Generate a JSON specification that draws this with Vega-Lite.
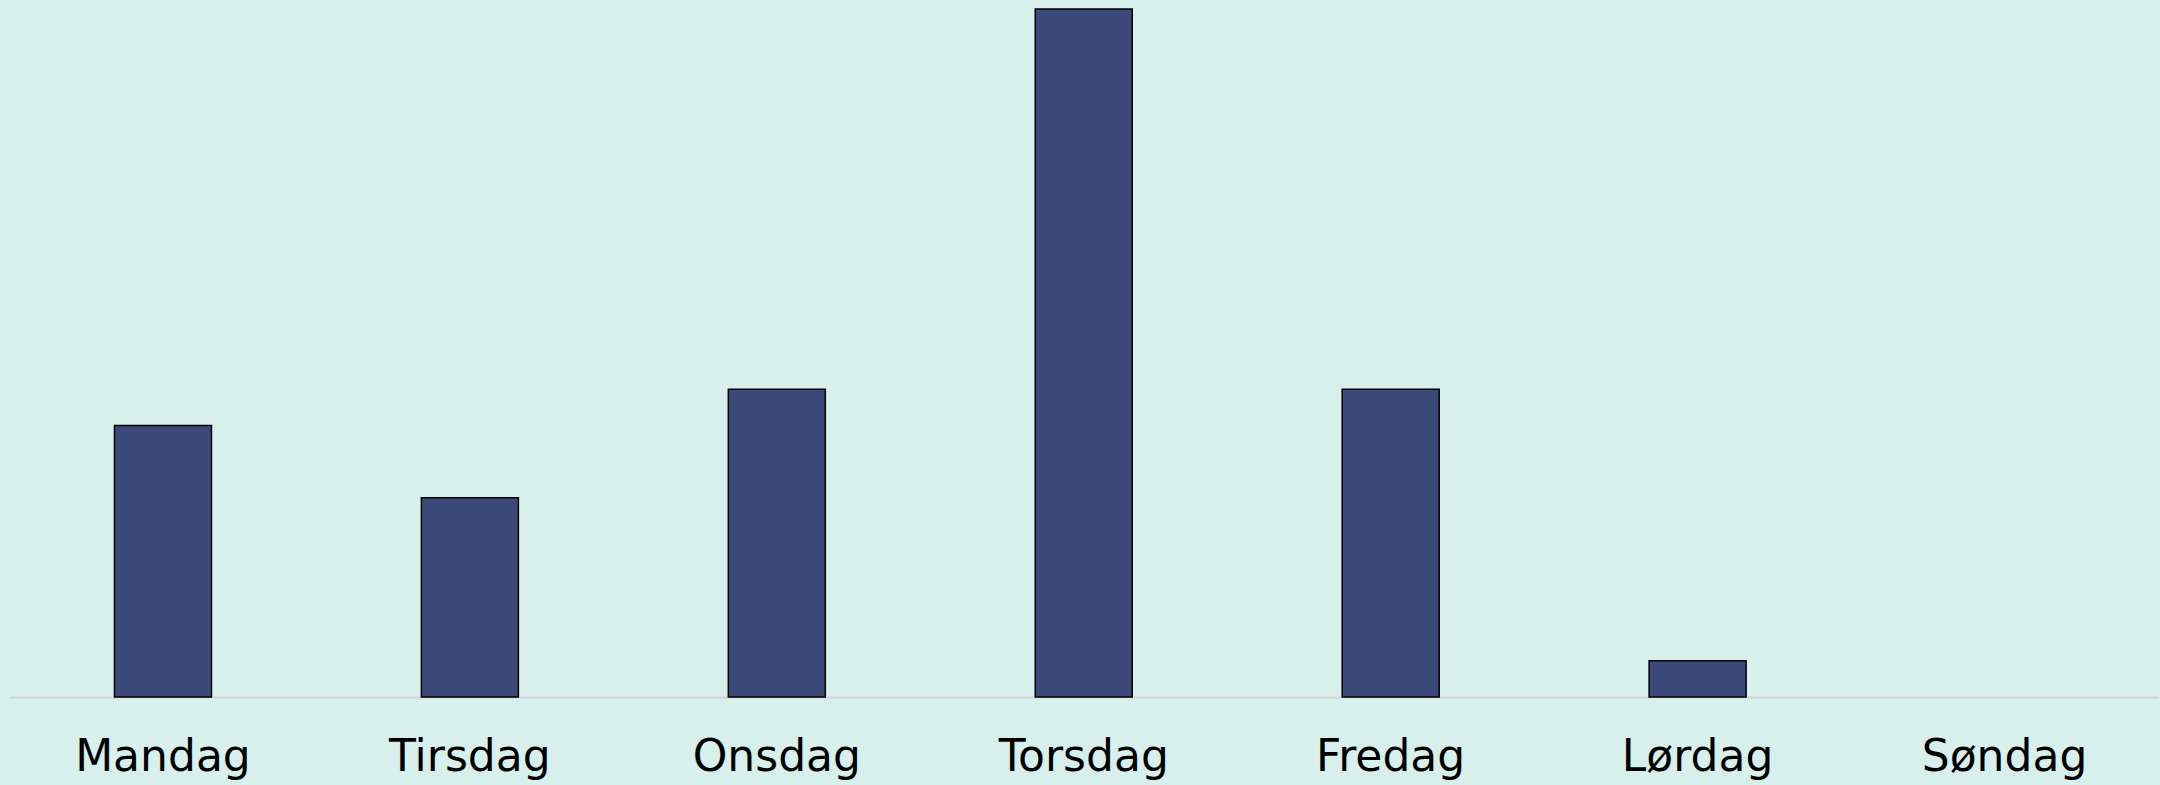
{
  "$schema": "https://vega.github.io/schema/vega-lite/v6.json",
  "autosize": {"type": "none"},
  "width": 2148.5,
  "height": 688,
  "padding": {"left": 9.5, "top": 9, "right": 2, "bottom": 88},
  "background": "#D7F0EC",
  "config": {"view": {"stroke": null}},
  "data": {
    "values": [
      {"dag": "Mandag", "andel": 15},
      {"dag": "Tirsdag", "andel": 11},
      {"dag": "Onsdag", "andel": 17},
      {"dag": "Torsdag", "andel": 38},
      {"dag": "Fredag", "andel": 17},
      {"dag": "Lørdag", "andel": 2},
      {"dag": "Søndag", "andel": 0}
    ]
  },
  "mark": {"type": "bar", "fill": "#3C4A7B", "stroke": "#000000", "strokeWidth": 1.5},
  "encoding": {
    "x": {
      "field": "dag",
      "type": "nominal",
      "sort": null,
      "scale": {"paddingInner": 0.684, "paddingOuter": 0.342},
      "axis": {
        "title": null,
        "labelAngle": 0,
        "ticks": false,
        "domainColor": "#D3D3D3",
        "domainWidth": 2,
        "labelFont": "DejaVu Sans",
        "labelFontSize": 44,
        "labelColor": "#000000",
        "labelBaseline": "alphabetic",
        "labelPadding": 73
      }
    },
    "y": {
      "field": "andel",
      "type": "quantitative",
      "scale": {"domain": [0, 38], "nice": false},
      "axis": null
    },
    "strokeOpacity": {"condition": {"test": "datum.andel > 0", "value": 1}, "value": 0}
  }
}
